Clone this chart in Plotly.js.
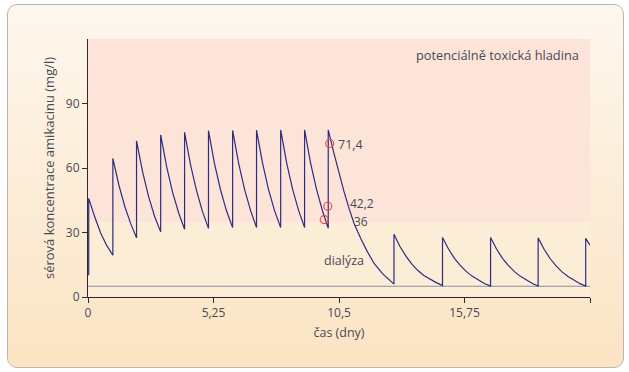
<!DOCTYPE html>
<html>
<head>
<meta charset="utf-8">
<script src="https://cdn.plot.ly/plotly-3.0.1.min.js"></script>
<style>
  html, body { margin: 0; padding: 0; background: #ffffff; }
  #frame {
    position: absolute; left: 7px; top: 4px; width: 615px; height: 362px;
    border: 1px solid #b9b6b0; border-radius: 10px;
    background: linear-gradient(to bottom, #fef7ee 0%, #fcecd6 55%, #fbe4c3 100%);
  }
  #chart { position: absolute; left: 0; top: 0; width: 629px; height: 372px; }
</style>
</head>
<body>
<div id="frame"></div>
<div id="chart"></div>
<script>
// ---- data (days, mg/l) ----
const timeDays = [
  0.03, 0.03, 0.28, 0.53, 0.78, 1.04,
  1.04, 1.29, 1.54, 1.79, 2.03,
  2.03, 2.28, 2.53, 2.78, 3.04,
  3.04, 3.29, 3.54, 3.79, 4.04,
  4.04, 4.29, 4.54, 4.79, 5.04,
  5.04, 5.29, 5.54, 5.79, 6.05,
  6.05, 6.30, 6.55, 6.80, 7.05,
  7.05, 7.30, 7.55, 7.80, 8.06,
  8.06, 8.31, 8.56, 8.81, 9.06,
  9.06, 9.31, 9.56, 9.81, 10.05,
  10.05, 10.29, 10.50, 10.71, 10.92, 11.13, 11.41, 11.69, 11.97, 12.32, 12.80,
  12.80, 13.05, 13.30, 13.55, 13.80, 14.05, 14.30, 14.55, 14.83,
  14.83, 15.08, 15.33, 15.58, 15.83, 16.08, 16.33, 16.58, 16.84,
  16.84, 17.09, 17.34, 17.59, 17.84, 18.09, 18.34, 18.59, 18.83,
  18.83, 19.08, 19.33, 19.58, 19.83, 20.08, 20.33, 20.58, 20.82,
  20.82, 21.0
];
const amikacin = [
  10.1, 45.9, 37.3, 29.8, 24.0, 19.4,
  64.5, 52.1, 42.1, 34.0, 27.5,
  72.6, 58.4, 46.9, 37.7, 30.3,
  75.4, 60.6, 48.7, 39.2, 31.5,
  76.6, 61.5, 49.5, 39.7, 31.9,
  77.4, 62.2, 50.0, 40.2, 32.3,
  77.5, 62.3, 50.1, 40.3, 32.3,
  77.6, 62.4, 50.1, 40.3, 32.3,
  77.7, 62.4, 50.1, 40.3, 32.3,
  77.7, 62.4, 50.1, 40.0, 32.0,
  77.7, 66.8, 57.5, 49.0, 41.2, 34.2, 27.2, 21.0, 15.6, 10.9, 6.0,
  29.2, 23.5, 19.0, 15.3, 12.3, 10.0, 8.3, 6.8, 5.3,
  27.7, 22.3, 18.0, 14.6, 11.8, 9.6, 7.8, 6.3, 5.1,
  27.7, 22.3, 18.0, 14.6, 11.8, 9.6, 7.8, 6.3, 5.1,
  27.5, 22.2, 17.9, 14.5, 11.7, 9.5, 7.7, 6.2, 5.1,
  27.3, 24.1
];
const dialysisTimes = [0, 21];
const dialysisLevel = [5, 5];
const toxicThreshold = 35;
const measuredTimes = [9.88, 10.03, 10.11];
const measuredValues = [36, 42.2, 71.4];
const measuredLabels = ['36', '42,2', '71,4'];
const xTickVals = [0, 5.25, 10.5, 15.75, 21];
const xTickText = ['0', '5,25', '10,5', '15,75', ''];
const yTickVals = [0, 30, 60, 90];
const yTickText = ['0', '30', '60', '90'];

const FONT = 'Open Sans, Noto Sans, sans-serif';
const TXT = '#4a4a55';

const traces = [
  { x: dialysisTimes, y: dialysisLevel, mode: 'lines',
    line: { color: '#8e8c9c', width: 1.2 }, hoverinfo: 'skip', showlegend: false },
  { x: timeDays, y: amikacin, mode: 'lines',
    line: { color: '#2e2c80', width: 1.2 }, showlegend: false },
  { x: measuredTimes, y: measuredValues, mode: 'markers',
    marker: { symbol: 'circle-open', size: 8, color: '#e8404a', line: { width: 1.1 } },
    showlegend: false }
];

const ann = (x, y, text, xanchor, size) => ({
  x, y, text, xref: 'x', yref: 'y', showarrow: false, xanchor, yanchor: 'middle',
  borderpad: 0,
  font: { family: FONT, size: size || 12.5, color: TXT }
});

const layout = {
  width: 629, height: 372,
  margin: { l: 88, r: 39, t: 39, b: 75, pad: 0 },
  paper_bgcolor: 'rgba(0,0,0,0)',
  plot_bgcolor: 'rgba(0,0,0,0)',
  font: { family: FONT, size: 12, color: TXT },
  xaxis: {
    range: [0, 21], tickvals: xTickVals, ticktext: xTickText,
    showline: true, linecolor: '#2b2b2b', linewidth: 1,
    ticks: 'outside', ticklen: 5, tickcolor: '#2b2b2b',
    showgrid: false, zeroline: false,
    tickfont: { family: FONT, size: 12, color: TXT },
    title: { text: 'čas (dny)', font: { family: FONT, size: 12.5, color: TXT }, standoff: 7 }
  },
  yaxis: {
    range: [0, 120], tickvals: yTickVals, ticktext: yTickText,
    showline: true, linecolor: '#2b2b2b', linewidth: 1,
    ticks: 'outside', ticklen: 5, tickcolor: '#2b2b2b',
    showgrid: false, zeroline: false,
    tickfont: { family: FONT, size: 12, color: TXT },
    title: { text: 'sérová koncentrace amikacinu (mg/l)', font: { family: FONT, size: 13, color: TXT }, standoff: 8 }
  },
  shapes: [
    { type: 'rect', xref: 'x', yref: 'y', x0: 0, x1: 21, y0: 0, y1: toxicThreshold,
      fillcolor: '#fcedd6', line: { width: 0 }, layer: 'below' },
    { type: 'rect', xref: 'x', yref: 'y', x0: 0, x1: 21, y0: toxicThreshold, y1: 120,
      fillcolor: '#fce4d9', line: { width: 0 }, layer: 'below' }
  ],
  annotations: [
    ann(20.6, 112.4, 'potenciálně toxická hladina', 'right', 12.8),
    ann(10.42, 70.8, measuredLabels[2], 'left'),
    ann(10.9, 43.3, measuredLabels[1], 'left', 12),
    ann(11.08, 34.9, measuredLabels[0], 'left', 12),
    ann(9.84, 17.1, 'dialýza', 'left'),
    ann(21.1, 30.7, 'predikce dávky 500 mg/48 h', 'right', 12.8)
  ]
};

Plotly.newPlot('chart', traces, layout, { displayModeBar: false, staticPlot: true });
</script>
</body>
</html>
